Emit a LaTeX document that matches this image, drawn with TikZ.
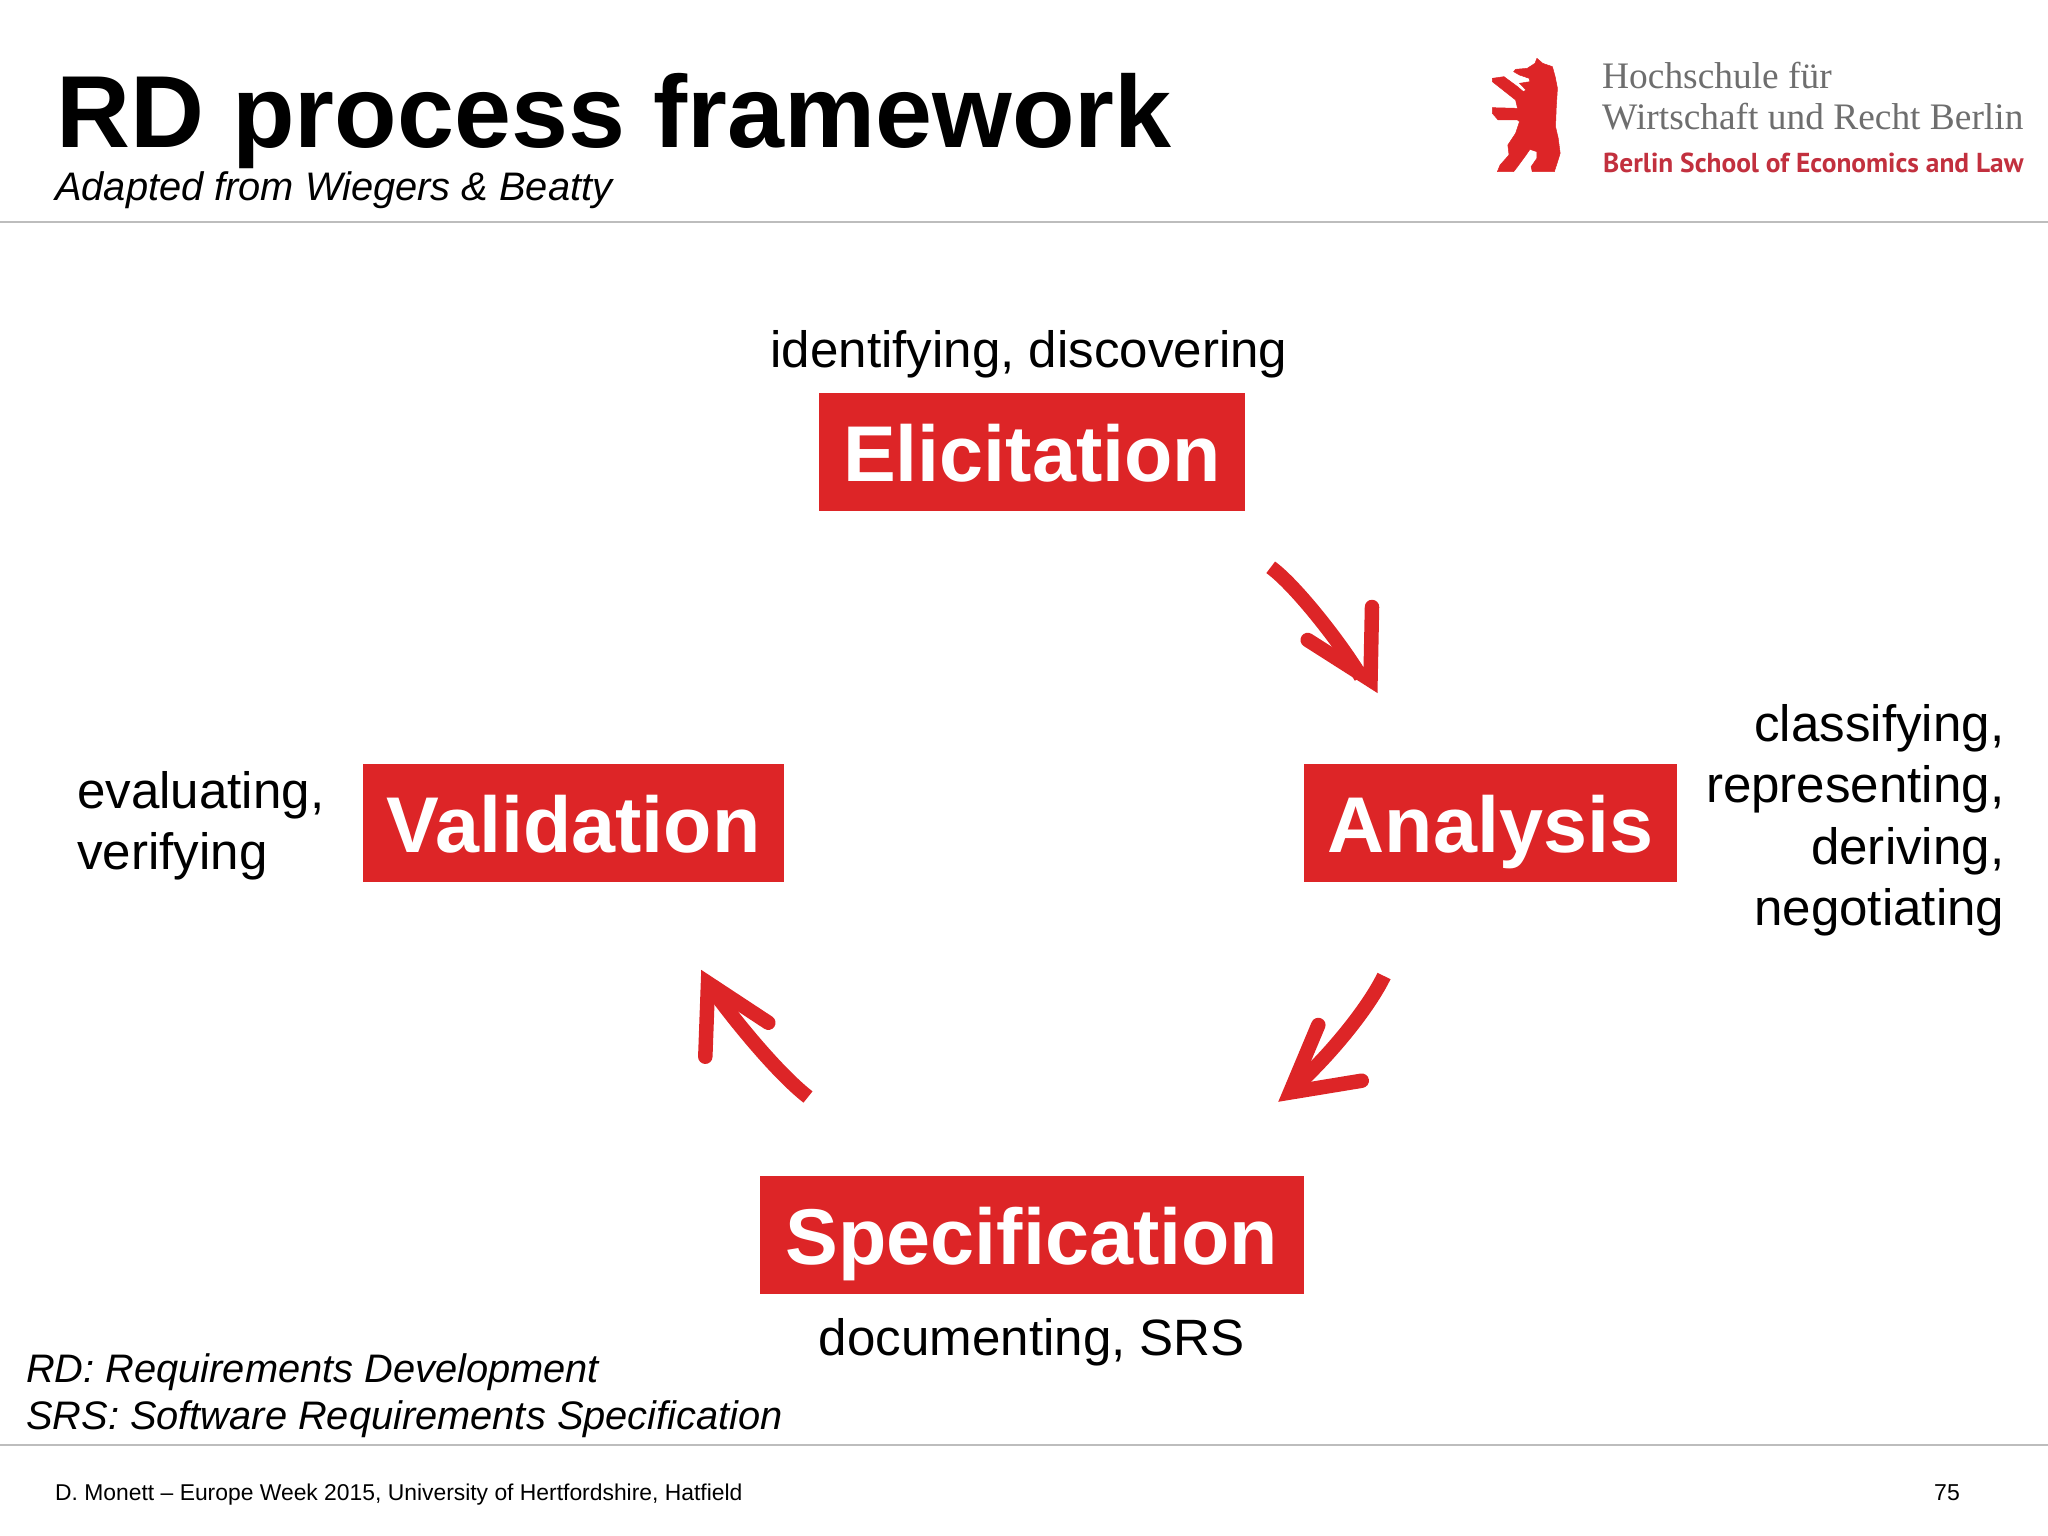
\documentclass[tikz,border=0pt]{standalone}
\usepackage{fontspec}
\setmainfont{Liberation Sans}
\newfontfamily\logoserif{Liberation Serif}
\newfontfamily\logosans{PT Sans}
\definecolor{hwrred}{HTML}{DD2527}
\definecolor{rulegray}{HTML}{BDBDBD}
\definecolor{logogray}{HTML}{6E6E6E}
\definecolor{logored}{HTML}{C2303E}
\newcommand{\fsz}[2]{\fontsize{#1}{#2}\selectfont}
\tikzset{
  stagebox/.style={fill=hwrred,text=white,inner sep=0pt,text height=88pt,text depth=30pt,font=\fsz{79.1}{90}\bfseries},
  tag/.style={inner sep=0pt,font=\fsz{51.1}{61.5},text=black},
  notetext/.style={inner sep=0pt,font=\fsz{39.8}{47.5}\itshape,text=black},
  shaft/.style={draw=hwrred,line width=14.5pt,line cap=butt},
  barbs/.style={draw=hwrred,line width=14.5pt,line cap=round,line join=miter,miter limit=10},
}
\begin{document}
\begin{tikzpicture}[x=1pt,y=-1pt]
\useasboundingbox (0,0) rectangle (2048,1536);
% rules
\coordinate (ra) at (0,222); \coordinate (rb) at (2048,222);
\coordinate (rc) at (0,1445); \coordinate (rd) at (2048,1445);
\draw[rulegray,line width=1.5pt] (ra) -- (rb);
\draw[rulegray,line width=1.5pt] (rc) -- (rd);
% title
\node[anchor=base west,inner sep=0pt,font=\fsz{102.4}{110}\bfseries] (title) at (56,148) {RD process framework};
\node[anchor=base west,inner sep=0pt,font=\fsz{39.8}{46}\itshape] (subtitle) at (55,200) {Adapted from Wiegers \& Beatty};
% logo
\fill[hwrred,draw=hwrred,line width=0.5pt,line join=round,shift={(1440,30)},x=0.3876pt,y=-0.3333pt]
 (250,85)--(265,100)--(290,110)--(297,140)--(303,175)--(300,230)--(298,290)--(305,325)--(310,370)--(302,400)--(295,425)--(238,425)--(235,410)--(250,385)--(250,365)--(232,358)--(222,375)--(200,410)--(190,425)--(148,425)--(155,405)--(178,375)--(175,345)--(195,310)--(205,275)--(200,270)--(150,270)--(135,250)--(135,233)--(200,235)--(195,210)--(135,155)--(135,145)--(165,140)--(200,170)--(215,185)--(222,180)--(205,160)--(232,155)--(230,145)--(205,135)--(190,125)--(195,118)--(225,115)--(245,100)--cycle;
\node[anchor=base west,inner sep=0pt,font=\logoserif\fsz{37.4}{42},text=logogray] (logoa) at (1602,89) {Hochschule für};
\node[anchor=base west,inner sep=0pt,font=\logoserif\fsz{37.4}{42},text=logogray] (logob) at (1602,130) {Wirtschaft und Recht Berlin};
\node[anchor=base west,inner sep=0pt,font=\logosans\bfseries\fsz{27.4}{30},text=logored] (logoc) at (1603,172) {Berlin School of Economics and Law};
% stages
\node[stagebox,minimum width=426pt] (eli) at (1032,452) {Elicitation};
\node[stagebox,minimum width=373pt] (ana) at (1490.5,823) {Analysis};
\node[stagebox,minimum width=544pt] (spe) at (1032,1235) {Specification};
\node[stagebox,minimum width=421pt] (val) at (573.5,823) {Validation};
% labels
\node[tag,anchor=base] (t1) at (1029,367) {identifying, discovering};
\node[tag,anchor=base] (t2) at (1032,1355) {documenting, SRS};
\node[tag,anchor=north east,align=right] (t3) at (2004.5,704) {classifying,\\representing,\\deriving,\\negotiating};
\node[tag,anchor=north west,align=left] (t4) at (77,771) {evaluating,\\verifying};
\node[notetext,anchor=north west,align=left] (n1) at (26,1353) {RD: Requirements Development\\SRS: Software Requirements Specification};
% footer
\node[anchor=base west,inner sep=0pt,font=\fsz{22.87}{27}] (f1) at (55,1500) {D. Monett – Europe Week 2015, University of Hertfordshire, Hatfield};
\node[anchor=base east,inner sep=0pt,font=\fsz{23}{27}] (f2) at (1960,1500) {75};
% arrow 1
\coordinate (as) at (1270.7,567.3); \coordinate (ae) at (1361,677);
\coordinate (ab) at (1372,607); \coordinate (av) at (1370.5,680); \coordinate (ac) at (1307.7,640);
\draw[shaft] (as) .. controls (1295,585) and (1340,642) .. (ae);
\draw[barbs] (ab) -- (av) -- (ac);
% arrow 2
\coordinate (bs) at (1384,976); \coordinate (be) at (1296,1086);
\coordinate (bb) at (1318.3,1025); \coordinate (bv) at (1290,1092.5); \coordinate (bc) at (1361.7,1080.7);
\draw[shaft] (bs) .. controls (1370,1005) and (1335,1050) .. (be);
\draw[barbs] (bb) -- (bv) -- (bc);
% arrow 3
\coordinate (cs) at (808,1097); \coordinate (ce) at (714,992);
\coordinate (cb) at (768.3,1022.7); \coordinate (cv) at (708,983); \coordinate (cc) at (705.3,1056.7);
\draw[shaft] (cs) .. controls (781,1076) and (742,1030) .. (ce);
\draw[barbs] (cb) -- (cv) -- (cc);
\end{tikzpicture}
\end{document}
